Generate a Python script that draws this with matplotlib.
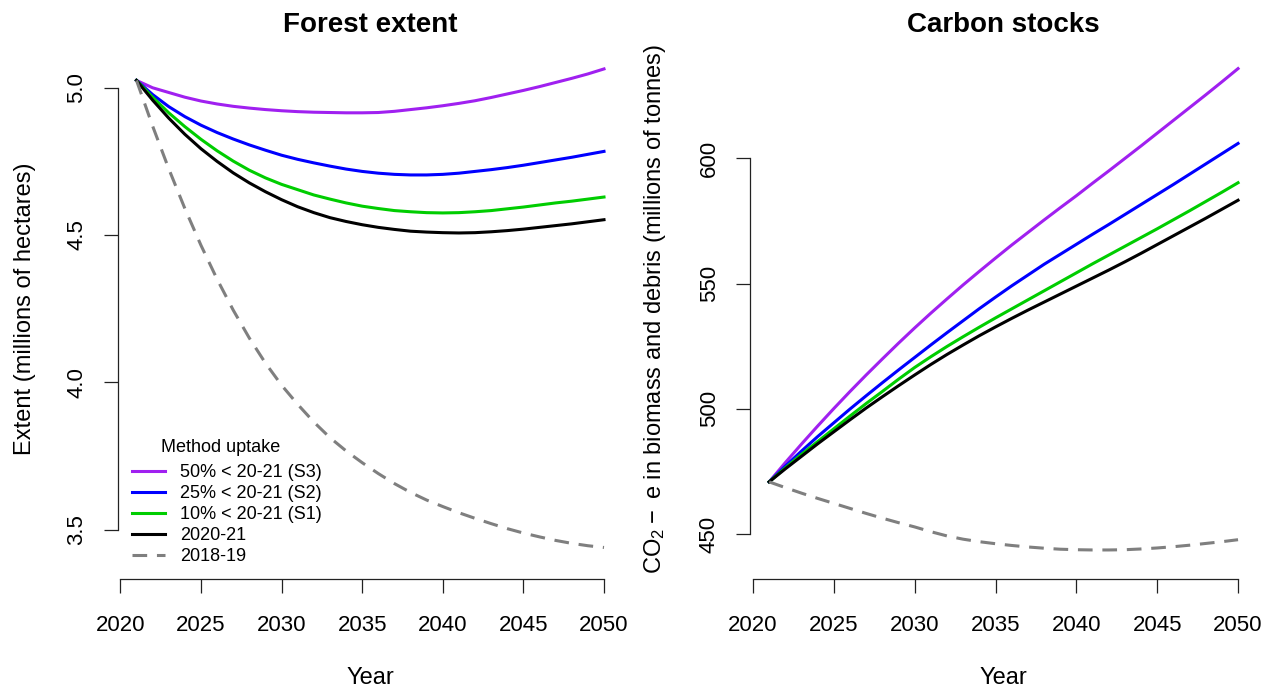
import matplotlib
matplotlib.use("Agg")
import matplotlib.pyplot as plt
from matplotlib.lines import Line2D

plt.rcParams["font.family"] = ["Liberation Sans", "DejaVu Sans"]
plt.rcParams["mathtext.fontset"] = "custom"
plt.rcParams["mathtext.rm"] = "Liberation Sans"
plt.rcParams["mathtext.default"] = "regular"

years = list(range(2021, 2051))

# Forest extent (millions of hectares)
extent_s3 = [5.025, 5.000, 4.984, 4.968, 4.955, 4.945, 4.937, 4.931, 4.926, 4.922,
             4.919, 4.917, 4.916, 4.915, 4.915, 4.916, 4.920, 4.926, 4.932, 4.939,
             4.947, 4.956, 4.967, 4.979, 4.991, 5.004, 5.018, 5.032, 5.047, 5.064]
extent_s2 = [5.025, 4.977, 4.936, 4.902, 4.873, 4.848, 4.826, 4.806, 4.788, 4.771,
             4.757, 4.745, 4.734, 4.724, 4.716, 4.710, 4.706, 4.704, 4.704, 4.706,
             4.710, 4.716, 4.722, 4.729, 4.737, 4.746, 4.755, 4.764, 4.774, 4.784]
extent_s1 = [5.025, 4.968, 4.915, 4.868, 4.825, 4.786, 4.751, 4.720, 4.694, 4.672,
             4.654, 4.636, 4.622, 4.609, 4.598, 4.590, 4.583, 4.579, 4.576, 4.575,
             4.576, 4.579, 4.583, 4.589, 4.595, 4.602, 4.609, 4.615, 4.622, 4.629]
extent_2021 = [5.025, 4.958, 4.897, 4.842, 4.793, 4.750, 4.711, 4.677, 4.647, 4.620,
               4.596, 4.576, 4.559, 4.546, 4.535, 4.526, 4.519, 4.513, 4.510, 4.508,
               4.507, 4.508, 4.511, 4.515, 4.520, 4.526, 4.532, 4.538, 4.545, 4.552]
extent_1819 = [5.025, 4.870, 4.725, 4.590, 4.465, 4.350, 4.245, 4.150, 4.065, 3.990,
               3.925, 3.865, 3.812, 3.767, 3.727, 3.690, 3.656, 3.626, 3.600, 3.578,
               3.557, 3.538, 3.520, 3.503, 3.488, 3.475, 3.463, 3.453, 3.445, 3.439]

# CO2-e in biomass and debris (millions of tonnes)
carbon_s3 = [470.8, 478.5, 485.9, 493.1, 500.1, 506.9, 513.5, 519.9, 526.2, 532.3,
             538.2, 543.9, 549.5, 554.9, 560.2, 565.4, 570.4, 575.4, 580.3, 585.1,
             590.1, 595.0, 600.0, 605.0, 610.1, 615.2, 620.3, 625.4, 630.6, 635.9]
carbon_s2 = [470.8, 477.1, 483.1, 488.9, 494.4, 499.9, 505.2, 510.4, 515.5, 520.5,
             525.5, 530.4, 535.2, 540.0, 544.6, 549.1, 553.4, 557.7, 561.7, 565.7,
             569.7, 573.6, 577.6, 581.6, 585.6, 589.6, 593.7, 597.8, 601.9, 606.0]
carbon_s1 = [470.8, 476.4, 481.8, 486.9, 492.0, 497.1, 502.1, 506.9, 511.8, 516.5,
             520.8, 524.9, 528.8, 532.6, 536.3, 539.9, 543.5, 547.1, 550.7, 554.3,
             557.9, 561.4, 564.9, 568.4, 571.9, 575.5, 579.1, 582.8, 586.5, 590.3]
carbon_2021 = [470.8, 476.0, 481.0, 486.0, 490.8, 495.6, 500.3, 504.8, 509.2, 513.5,
               517.7, 521.7, 525.5, 529.2, 532.7, 536.1, 539.4, 542.6, 545.8, 549.0,
               552.2, 555.4, 558.7, 562.1, 565.6, 569.1, 572.6, 576.1, 579.7, 583.3]
carbon_1819 = [470.8, 468.5, 466.3, 464.2, 462.2, 460.2, 458.2, 456.3, 454.5, 452.8,
               450.9, 449.2, 447.9, 446.9, 446.1, 445.4, 444.8, 444.3, 443.9, 443.7,
               443.6, 443.6, 443.7, 444.0, 444.4, 444.9, 445.5, 446.2, 446.9, 447.7]

legend_title = "Method uptake"
series_labels = ["50% < 20-21 (S3)", "25% < 20-21 (S2)", "10% < 20-21 (S1)",
                 "2020-21", "2018-19"]
series_colors = ["#A020F0", "#0000FF", "#00CD00", "#000000", "#7F7F7F"]
series_dashed = [False, False, False, False, True]

x_ticks = [2020, 2025, 2030, 2035, 2040, 2045, 2050]
extent_ticks = [3.5, 4.0, 4.5, 5.0]
extent_tick_labels = ["3.5", "4.0", "4.5", "5.0"]
carbon_ticks = [450, 500, 550, 600]
carbon_tick_labels = ["450", "500", "550", "600"]

W, H = 1279, 693
fig = plt.figure(figsize=(W / 100, H / 100), dpi=100)


def px_axes(x0, x1, y_top, y_bot):
    return fig.add_axes([x0 / W, 1 - y_bot / H, (x1 - x0) / W, (y_bot - y_top) / H])


ax1 = px_axes(117.8, 622.7, 38.3, 579)
ax2 = px_axes(750.4, 1256.8, 38.3, 579)

LW = 2.2
DASH = (4.8, 3.2)
TICK_FS = 16
LABEL_FS = 17


def draw_panel(ax, data, yticks, ylabels, ylim, title, ylabel, ylab_x):
    for vals, col, dashed in zip(data, series_colors, series_dashed):
        if dashed:
            ax.plot(years, vals, color=col, lw=LW, dashes=DASH)
        else:
            ax.plot(years, vals, color=col, lw=LW)
    ax.set_xlim(2019.84, 2051.16)
    ax.set_ylim(*ylim)
    for s in ("top", "right"):
        ax.spines[s].set_visible(False)
    ax.spines["left"].set_bounds(yticks[0], yticks[-1])
    ax.spines["bottom"].set_bounds(x_ticks[0], x_ticks[-1])
    for s in ("left", "bottom"):
        ax.spines[s].set_linewidth(0.9)
        ax.spines[s].set_color("#222222")
    ax.set_xticks(x_ticks)
    ax.set_yticks(yticks)
    ax.set_yticklabels(ylabels)
    ax.tick_params(direction="out", length=10, width=0.9, color="#222222",
                   labelsize=TICK_FS)
    ax.tick_params(axis="x", pad=16)
    ax.tick_params(axis="y", pad=12)
    for lab in ax.get_yticklabels():
        lab.set_rotation(90)
        lab.set_va("center")
    ax.text(0.5, (579 - 32) / 540.7, title, transform=ax.transAxes, ha="center",
            va="baseline", fontsize=20, fontweight="bold")
    ax.set_xlabel("Year", fontsize=LABEL_FS)
    ax.xaxis.set_label_coords(0.5, (579 - 678) / 540.7)
    ax.xaxis.label.set_va("center")
    ax.set_ylabel(ylabel, fontsize=LABEL_FS)
    ax.yaxis.set_label_coords(ylab_x, 0.5)
    ax.yaxis.label.set_va("center")


draw_panel(ax1, [extent_s3, extent_s2, extent_s1, extent_2021, extent_1819],
           extent_ticks, extent_tick_labels, (3.332, 5.168), "Forest extent",
           "Extent (millions of hectares)", (25 - 117.8) / 504.9)
draw_panel(ax2, [carbon_s3, carbon_s2, carbon_s1, carbon_2021, carbon_1819],
           carbon_ticks, carbon_tick_labels, (432, 648), "Carbon stocks",
           "CO$_2 -$ e in biomass and debris (millions of tonnes)",
           (655 - 750.4) / 506.4)

handles = []
for col, dashed in zip(series_colors, series_dashed):
    if dashed:
        handles.append(Line2D([], [], color=col, lw=LW, dashes=DASH))
    else:
        handles.append(Line2D([], [], color=col, lw=LW))
leg = ax1.legend(handles, series_labels, frameon=False,
                 loc="upper left", bbox_to_anchor=(132 / W, 1 - 464 / H),
                 bbox_transform=fig.transFigure, fontsize=13,
                 borderpad=0, handlelength=1.83, handletextpad=0.85,
                 labelspacing=0.22, borderaxespad=0)
fig.text(221 / W, 1 - 447 / H, legend_title, ha="center", va="center", fontsize=13)

fig.savefig("out.png", dpi=100, facecolor="white")
